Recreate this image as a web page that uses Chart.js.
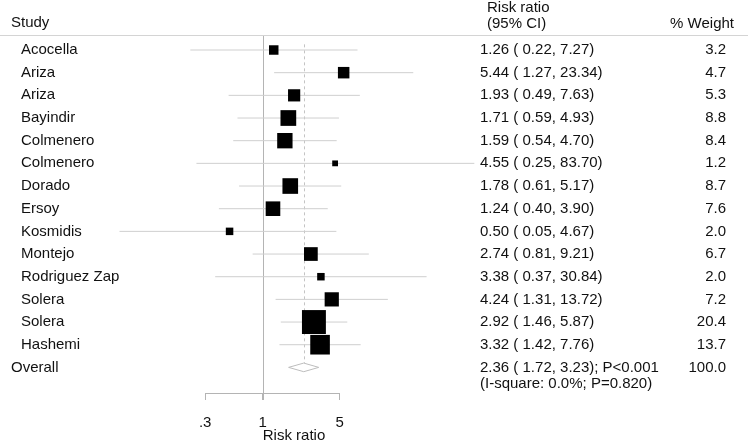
<!DOCTYPE html>
<html>
<head>
<meta charset="utf-8">
<script src="https://cdn.jsdelivr.net/npm/chart.js@4.4.0/dist/chart.umd.min.js"></script>
<style>
  body { margin: 0; background: #fff; }
</style>
</head>
<body>
<canvas id="forest" width="748" height="442"></canvas>
<script>
// Data til forest plot
var studies = ["Acocella", "Ariza", "Ariza", "Bayindir", "Colmenero", "Colmenero", "Dorado", "Ersoy", "Kosmidis", "Montejo", "Rodriguez Zap", "Solera", "Solera", "Hashemi"];
var rr      = [1.26, 5.44, 1.93, 1.71, 1.59, 4.55, 1.78, 1.24, 0.50, 2.74, 3.38, 4.24, 2.92, 3.32];
var lower   = [0.22, 1.27, 0.49, 0.59, 0.54, 0.25, 0.61, 0.40, 0.05, 0.81, 0.37, 1.31, 1.46, 1.42];
var upper   = [7.27, 23.34, 7.63, 4.93, 4.70, 83.70, 5.17, 3.90, 4.67, 9.21, 30.84, 13.72, 5.87, 7.76];
var weights = [3.2, 4.7, 5.3, 8.8, 8.4, 1.2, 8.7, 7.6, 2.0, 6.7, 2.0, 7.2, 20.4, 13.7];

var overallRR = 2.36;
var overallLower = 1.72;
var overallUpper = 3.23;
var overallWeight = 100.0;
var overallNote = ["2.36 ( 1.72, 3.23); P<0.001", "(I-square: 0.0%; P=0.820)"];

var tickValues = [0.3, 1, 5];
var tickLabels = [".3", "1", "5"];

var FONT = '"Liberation Sans", Arial, Helvetica, sans-serif';
var overallRow = studies.length;

// CI-linjer med huller imellem
var ciData = [];
studies.forEach(function (s, i) {
    ciData.push({ x: lower[i], y: i }, { x: upper[i], y: i }, { x: null, y: null });
});

var boxData = rr.map(function (v, i) { return { x: v, y: i }; });

var dh = 0.19; // halv hoejde af diamanten (i raekker)
var diamondData = [
    { x: overallLower, y: overallRow },
    { x: overallRR, y: overallRow - dh },
    { x: overallUpper, y: overallRow },
    { x: overallRR, y: overallRow + dh },
    { x: overallLower, y: overallRow }
];

// Tekst, referencelinjer og akse-linje
var forestPlugin = {
    id: 'forest',
    beforeDatasetsDraw: function (chart) {
        var ctx = chart.ctx, xs = chart.scales.x, ys = chart.scales.y, area = chart.chartArea;
        ctx.save();
        ctx.lineWidth = 1;

        // linje under overskrift
        ctx.strokeStyle = '#d4d4d4';
        ctx.beginPath(); ctx.moveTo(0, 35.5); ctx.lineTo(748, 35.5); ctx.stroke();

        // linje ved 1
        var x1 = Math.round(xs.getPixelForValue(1)) + 0.5;
        ctx.strokeStyle = '#b4b4b4';
        ctx.beginPath(); ctx.moveTo(x1, 36); ctx.lineTo(x1, area.bottom + 7); ctx.stroke();

        // akse-linje fra forste til sidste tick
        var yb = Math.round(area.bottom) + 0.5;
        ctx.beginPath();
        ctx.moveTo(xs.getPixelForValue(tickValues[0]), yb);
        ctx.lineTo(xs.getPixelForValue(tickValues[tickValues.length - 1]), yb);
        ctx.stroke();

        // stiplet linje ved samlet estimat
        var xo = Math.round(xs.getPixelForValue(overallRR)) + 0.5;
        ctx.strokeStyle = '#c4c4c4';
        ctx.setLineDash([3, 3]);
        ctx.beginPath();
        ctx.moveTo(xo, ys.getPixelForValue(-0.25));
        ctx.lineTo(xo, ys.getPixelForValue(overallRow - dh));
        ctx.stroke();
        ctx.restore();
    },
    afterDraw: function (chart) {
        var ctx = chart.ctx, ys = chart.scales.y;
        ctx.save();
        ctx.fillStyle = '#111';
        ctx.font = '15px ' + FONT;
        ctx.textBaseline = 'middle';

        // overskrifter
        ctx.textAlign = 'left';
        ctx.fillText('Study', 11, 23);
        ctx.fillText('Risk ratio', 487, 8);
        ctx.fillText('(95% CI)', 487, 24);
        ctx.textAlign = 'right';
        ctx.fillText('% Weight', 734, 24);

        studies.forEach(function (s, i) {
            var y = ys.getPixelForValue(i);
            ctx.textAlign = 'left';
            ctx.fillText(s, 21, y);
            ctx.fillText(rr[i].toFixed(2) + ' ( ' + lower[i].toFixed(2) + ', ' + upper[i].toFixed(2) + ')', 480, y);
            ctx.textAlign = 'right';
            ctx.fillText(weights[i].toFixed(1), 726, y);
        });

        var yo = ys.getPixelForValue(overallRow);
        ctx.textAlign = 'left';
        ctx.fillText('Overall', 11, yo);
        ctx.fillText(overallNote[0], 480, yo);
        ctx.fillText(overallNote[1], 480, yo + 16);
        ctx.textAlign = 'right';
        ctx.fillText(overallWeight.toFixed(1), 726, yo);
        ctx.restore();
    }
};

var ctx = document.getElementById('forest').getContext('2d');
var forestChart = new Chart(ctx, {
    type: 'scatter',
    data: {
        datasets: [{
            data: boxData,
            order: 1,
            pointStyle: 'rect',
            backgroundColor: '#000',
            borderWidth: 0,
            pointRadius: function (c) { return 5.3 * Math.sqrt(weights[c.dataIndex]) / Math.SQRT2; }
        }, {
            data: diamondData,
            order: 2,
            showLine: true,
            pointRadius: 0,
            borderColor: '#bdbdbd',
            borderWidth: 1
        }, {
            data: ciData,
            order: 3,
            showLine: true,
            spanGaps: false,
            pointRadius: 0,
            borderColor: '#cfcfcf',
            borderWidth: 1
        }]
    },
    options: {
        responsive: false,
        animation: false,
        events: [],
        layout: { padding: { left: 110, right: 270, top: 35, bottom: 0 } },
        plugins: { legend: { display: false }, tooltip: { enabled: false } },
        scales: {
            x: {
                type: 'logarithmic',
                min: 0.04098,
                max: 90.40,
                bounds: 'data',
                afterFit: function (axis) { axis.height = 49; },
                afterBuildTicks: function (axis) {
                    axis.ticks = tickValues.map(function (v) { return { value: v }; });
                },
                border: { display: false },
                grid: { drawOnChartArea: false, drawTicks: true, tickLength: 7, color: '#b4b4b4' },
                ticks: {
                    autoSkip: false,
                    maxRotation: 0,
                    padding: 14,
                    color: '#111',
                    font: { family: FONT, size: 15 },
                    callback: function (v, i) { return tickLabels[i]; }
                },
                title: {
                    display: true,
                    text: 'Risk ratio',
                    color: '#111',
                    font: { family: FONT, size: 15, lineHeight: 1 },
                    padding: { top: 0, bottom: -1 }
                }
            },
            y: {
                type: 'linear',
                display: false,
                reverse: true,
                min: -0.662,
                max: 15.13
            }
        }
    },
    plugins: [forestPlugin]
});
</script>
</body>
</html>
